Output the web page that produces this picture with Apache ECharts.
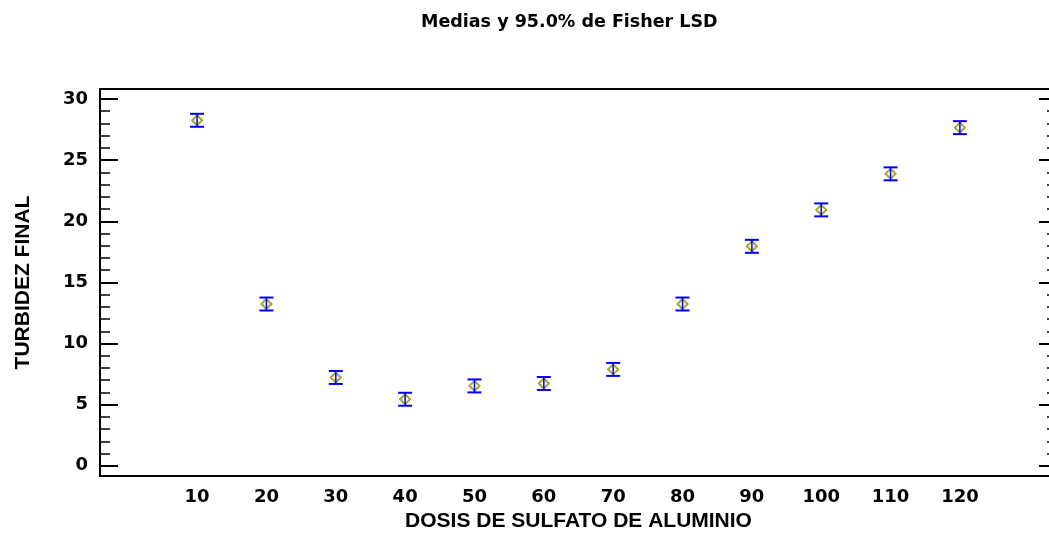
<!DOCTYPE html>
<html>
<head>
<meta charset="utf-8">
<title>Medias y 95.0% de Fisher LSD</title>
<script src="https://cdn.jsdelivr.net/npm/echarts@6/dist/echarts.min.js"></script>
<style>
  html, body { margin: 0; padding: 0; background: #ffffff; }
  #chart { width: 1049px; height: 533px; }
</style>
</head>
<body>
<div id="chart"></div>
<script>
// Dosis de sulfato de aluminio (mg/L) and mean final turbidity with LSD interval bounds
const dosis = [10, 20, 30, 40, 50, 60, 70, 80, 90, 100, 110, 120];
const medias = [28.26, 13.23, 7.22, 5.44, 6.53, 6.73, 7.88, 13.23, 17.95, 20.93, 23.88, 27.66];
const limiteInferior = [27.73, 12.70, 6.69, 4.91, 6.00, 6.20, 7.35, 12.70, 17.42, 20.40, 23.35, 27.13];
const limiteSuperior = [28.79, 13.76, 7.75, 5.97, 7.06, 7.26, 8.41, 13.76, 18.48, 21.46, 24.41, 28.19];

// Axis tick labels
const xTickLabels = [10, 20, 30, 40, 50, 60, 70, 80, 90, 100, 110, 120];
const yTickLabels = [0, 5, 10, 15, 20, 25, 30];
const yMinorTicks = [1, 2, 3, 4, 6, 7, 8, 9, 11, 12, 13, 14, 16, 17, 18, 19, 21, 22, 23, 24, 26, 27, 28, 29];

const X_MIN = -4, X_MAX = 134;
const Y_MIN = -0.84, Y_MAX = 30.82;

const tickFont = { fontFamily: 'DejaVu Sans', fontWeight: 'bold', fontSize: 18, color: '#000' };
const nameFont = { fontFamily: 'Liberation Sans', fontWeight: 'bold', fontSize: 21, color: '#000' };

const puntos = dosis.map((d, i) => [d, medias[i]]);
const intervalos = dosis.map((d, i) => [d, limiteInferior[i], limiteSuperior[i]]);

function dibujarIntervalo(params, api) {
  const x = api.value(0);
  const bajo = api.coord([x, api.value(1)]);
  const alto = api.coord([x, api.value(2)]);
  const half = 7;
  const color = '#0000ff';
  return {
    type: 'group',
    children: [
      { type: 'line', shape: { x1: alto[0], y1: alto[1], x2: bajo[0], y2: bajo[1] },
        style: { stroke: color, lineWidth: 1.5 } },
      { type: 'line', shape: { x1: alto[0] - half, y1: alto[1], x2: alto[0] + half, y2: alto[1] },
        style: { stroke: color, lineWidth: 2 } },
      { type: 'line', shape: { x1: bajo[0] - half, y1: bajo[1], x2: bajo[0] + half, y2: bajo[1] },
        style: { stroke: color, lineWidth: 2 } }
    ]
  };
}

function ejeY(position, values, length, width, showLabels) {
  return {
    type: 'value', position: position, min: Y_MIN, max: Y_MAX,
    axisLine: { show: true, onZero: false, lineStyle: { color: '#000', width: 2 } },
    axisTick: { show: true, inside: true, length: length, customValues: values,
                lineStyle: { color: '#000', width: width } },
    axisLabel: showLabels
      ? Object.assign({ show: true, margin: 12, customValues: yTickLabels }, tickFont)
      : { show: false },
    splitLine: { show: false }
  };
}

const chart = echarts.init(document.getElementById('chart'), null, { renderer: 'canvas' });
chart.setOption({
  animation: false,
  backgroundColor: '#ffffff',
  title: {
    text: 'Medias y 95.0% de Fisher LSD',
    left: 421, top: 13, padding: 0,
    textStyle: { fontFamily: 'DejaVu Sans', fontWeight: 'bold', fontSize: 17.5, color: '#000' }
  },
  grid: { left: 100, top: 89, width: 957, height: 387, containLabel: false, outerBoundsMode: 'none' },
  xAxis: [
    {
      type: 'value', position: 'bottom', min: X_MIN, max: X_MAX,
      name: 'DOSIS DE SULFATO DE ALUMINIO', nameLocation: 'middle', nameGap: 33,
      nameTextStyle: nameFont,
      axisLine: { show: true, onZero: false, lineStyle: { color: '#000', width: 2 } },
      axisTick: { show: false },
      axisLabel: Object.assign({ show: true, margin: 12, customValues: xTickLabels }, tickFont),
      splitLine: { show: false }
    },
    {
      type: 'value', position: 'top', min: X_MIN, max: X_MAX,
      axisLine: { show: true, onZero: false, lineStyle: { color: '#000', width: 2 } },
      axisTick: { show: false }, axisLabel: { show: false }, splitLine: { show: false }
    }
  ],
  yAxis: [
    Object.assign(ejeY('left', yTickLabels, 18, 2, true), {
      name: 'TURBIDEZ FINAL', nameLocation: 'middle', nameGap: 66, nameRotate: 90,
      nameTextStyle: nameFont
    }),
    ejeY('left', yMinorTicks, 10, 1.5, false),
    ejeY('right', yTickLabels, 18, 2, false),
    ejeY('right', yMinorTicks, 10, 1.5, false)
  ],
  series: [
    {
      type: 'scatter', xAxisIndex: 0, yAxisIndex: 0,
      data: puntos, symbol: 'diamond', symbolSize: [10, 10],
      itemStyle: { color: 'rgba(255,255,255,0)', borderColor: '#8f8f00', borderWidth: 2 },
      z: 2
    },
    {
      type: 'custom', xAxisIndex: 0, yAxisIndex: 0,
      data: intervalos, renderItem: dibujarIntervalo,
      encode: { x: 0, y: [1, 2] },
      z: 3
    }
  ]
});
</script>
</body>
</html>
